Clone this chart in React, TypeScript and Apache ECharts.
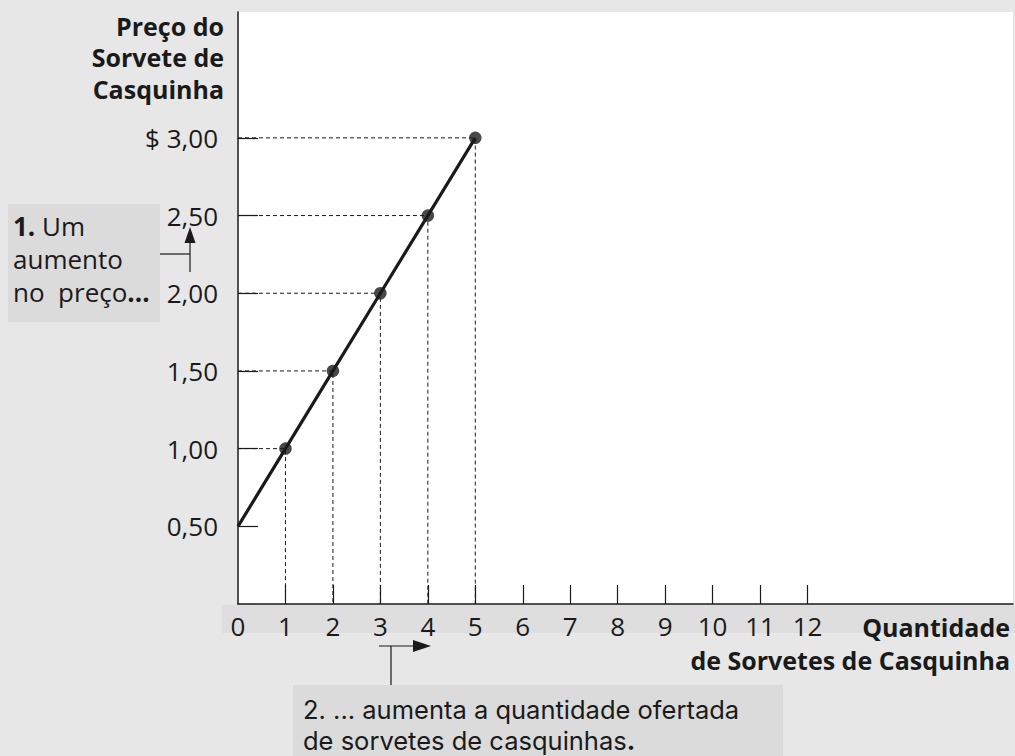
import React, { useEffect, useRef } from "react";
import * as echarts from "echarts";

const priceTicks = [0.5, 1, 1.5, 2, 2.5, 3];
const qtyTicks = [0, 1, 2, 3, 4, 5, 6, 7, 8, 9, 10, 11, 12];
const supplyQty = [0, 1, 2, 3, 4, 5];
const supplyPrice = [0.5, 1, 1.5, 2, 2.5, 3];
const markedQty = [1, 2, 3, 4, 5];
const markedPrice = [1, 1.5, 2, 2.5, 3];

const FONT = "'Open Sans', 'Noto Sans', sans-serif";
const NOTE_FONT = "Inter, 'Open Sans', sans-serif";
const INK = "#1a1a1a";
const BG = "#e7e7e7";
const BOX = "#dbdbdb";

export default function App() {
  const ref = useRef<HTMLDivElement>(null);
  useEffect(() => {
    if (!ref.current) return;
    const chart = echarts.init(ref.current, null, { renderer: "svg" });

    const guideSeries = markedQty.map((q, i) => ({
      type: "line",
      data: [
        [0, markedPrice[i]],
        [q, markedPrice[i]],
        [q, 0],
      ],
      symbol: "none",
      silent: true,
      z: 1,
      lineStyle: { color: INK, width: 1, type: [4, 3] },
    }));

    chart.setOption({
      animation: false,
      backgroundColor: BG,
      textStyle: { fontFamily: FONT },
      grid: {
        left: 238,
        top: 12,
        right: 2,
        bottom: 152,
        show: true,
        backgroundColor: "#ffffff",
        borderWidth: 0,
      },
      xAxis: {
        type: "value",
        min: 0,
        max: 16.33,
        axisLine: { show: true, onZero: false, lineStyle: { color: INK, width: 1.5 } },
        axisTick: {
          show: true,
          inside: true,
          length: 19,
          customValues: qtyTicks.slice(1),
          lineStyle: { color: INK, width: 1.2 },
        },
        axisLabel: {
          customValues: qtyTicks,
          fontSize: 26,
          color: INK,
          margin: 9,
          fontFamily: FONT,
          formatter: (v: number) => String(v),
        },
        splitLine: { show: false },
      },
      yAxis: {
        type: "value",
        min: 0,
        max: 3.81,
        axisLine: { show: true, onZero: false, lineStyle: { color: INK, width: 1.5 } },
        axisTick: {
          show: true,
          inside: true,
          length: 20,
          customValues: priceTicks,
          lineStyle: { color: INK, width: 1.2 },
        },
        axisLabel: {
          customValues: priceTicks,
          fontSize: 26,
          color: INK,
          margin: 20,
          fontFamily: FONT,
          formatter: (v: number) =>
            (v === 3 ? "$ " : "") + v.toFixed(2).replace(".", ","),
        },
        splitLine: { show: false },
      },
      series: [
        ...guideSeries,
        {
          type: "line",
          data: supplyQty.map((q, i) => [q, supplyPrice[i]]),
          symbol: "none",
          z: 3,
          lineStyle: { color: INK, width: 3.2 },
        },
        {
          type: "scatter",
          data: markedQty.map((q, i) => [q, markedPrice[i]]),
          symbol: "circle",
          symbolSize: 12.5,
          z: 4,
          itemStyle: { color: INK },
        },
      ],
      graphic: [
        // band under x-axis labels
        { type: "rect", z: -1, shape: { x: 222, y: 605, width: 793, height: 28 }, style: { fill: "#dedede" } },
        // y-axis name
        {
          type: "text",
          x: 224,
          y: 10,
          style: {
            text: "Preço do\nSorvete de\nCasquinha",
            align: "right",
            verticalAlign: "top",
            font: `bold 25px ${FONT}`,
            lineHeight: 31.5,
            fill: INK,
          },
        },
        // x-axis name
        {
          type: "text",
          x: 1010,
          y: 610,
          style: {
            text: "Quantidade\nde Sorvetes de Casquinha",
            align: "right",
            verticalAlign: "top",
            font: `bold 25px ${FONT}`,
            lineHeight: 33,
            fill: INK,
          },
        },
        // annotation 1
        { type: "rect", z: -1, shape: { x: 8, y: 204, width: 152, height: 118 }, style: { fill: BOX } },
        {
          type: "text",
          x: 13,
          y: 209,
          style: {
            text: "{b|1.} Um\naumento\nno  preço{b|...}",
            font: `26px ${FONT}`,
            lineHeight: 33,
            fill: INK,
            verticalAlign: "top",
            rich: {
              b: { fontWeight: "bold", fontSize: 26, fontFamily: FONT, fill: INK, lineHeight: 33 },
            },
          },
        },
        { type: "line", shape: { x1: 160, y1: 254, x2: 190, y2: 254 }, style: { stroke: INK, lineWidth: 1.2 } },
        { type: "line", shape: { x1: 190, y1: 272, x2: 190, y2: 240 }, style: { stroke: INK, lineWidth: 1.2 } },
        { type: "polygon", shape: { points: [[190, 227], [184.5, 243], [195.5, 243]] }, style: { fill: INK } },
        // annotation 2
        { type: "rect", z: -1, shape: { x: 293, y: 685, width: 490, height: 71 }, style: { fill: BOX } },
        {
          type: "text",
          x: 303,
          y: 709,
          style: {
            text: "2. ... aumenta a quantidade ofertada",
            font: `25.5px ${NOTE_FONT}`,
            fill: INK,
            verticalAlign: "middle",
          },
        },
        {
          type: "text",
          x: 303,
          y: 740,
          style: {
            text: "de sorvetes de casquinhas{b|.}",
            font: `25.5px ${NOTE_FONT}`,
            fill: INK,
            verticalAlign: "middle",
            rich: {
              b: { fontWeight: "bold", fontSize: 25.5, fontFamily: NOTE_FONT, fill: INK },
            },
          },
        },
        { type: "line", shape: { x1: 379, y1: 646, x2: 414, y2: 646 }, style: { stroke: INK, lineWidth: 1.2 } },
        { type: "polygon", shape: { points: [[431, 646], [413, 640], [413, 652]] }, style: { fill: INK } },
        { type: "line", shape: { x1: 391, y1: 646, x2: 391, y2: 685 }, style: { stroke: INK, lineWidth: 1.2 } },
      ],
    });
    return () => chart.dispose();
  }, []);
  return (
    <div
      ref={ref}
      style={{ position: "fixed", left: 0, top: 0, width: 1015, height: 756 }}
    />
  );
}
